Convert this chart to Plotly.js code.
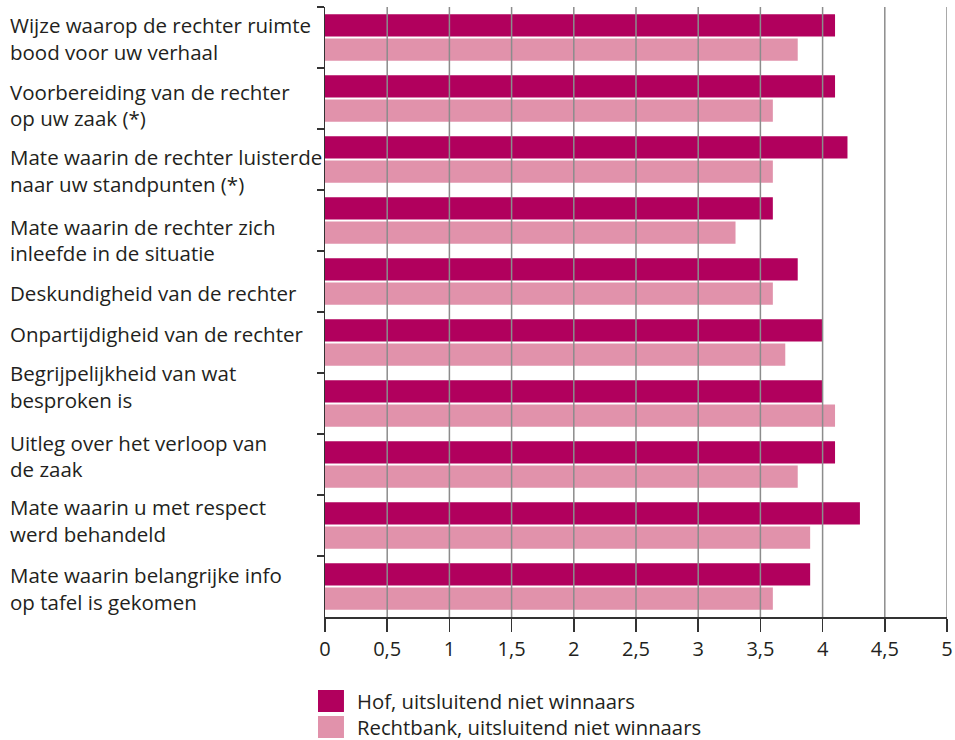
<!DOCTYPE html>
<html>
<head>
<meta charset="utf-8">
<script src="https://cdn.plot.ly/plotly-3.0.1.min.js"></script>
<style>html,body{margin:0;padding:0;background:#fff;}#chart{width:955px;height:740px;}</style>
</head>
<body>
<div id="chart"></div>
<script>
// ---- data ----
const categories = [
  "Wijze waarop de rechter ruimte<br>bood voor uw verhaal",
  "Voorbereiding van de rechter<br>op uw zaak (*)",
  "Mate waarin de rechter luisterde<br>naar uw standpunten (*)",
  "Mate waarin de rechter zich<br>inleefde in de situatie",
  "Deskundigheid van de rechter",
  "Onpartijdigheid van de rechter",
  "Begrijpelijkheid van wat<br>besproken is",
  "Uitleg over het verloop van<br>de zaak",
  "Mate waarin u met respect<br>werd behandeld",
  "Mate waarin belangrijke info<br>op tafel is gekomen"
];
const seriesNames = ["Hof, uitsluitend niet winnaars", "Rechtbank, uitsluitend niet winnaars"];
const hofValues = [4.1, 4.1, 4.2, 3.6, 3.8, 4.0, 4.0, 4.1, 4.3, 3.9];
const rechtbankValues = [3.8, 3.6, 3.6, 3.3, 3.6, 3.7, 4.1, 3.8, 3.9, 3.6];
const xTickValues = [0, 0.5, 1, 1.5, 2, 2.5, 3, 3.5, 4, 4.5, 5];

// ---- styling ----
const colors = ["#b1005d", "#e192ab"];
const FONT = "'Open Sans', sans-serif";
const TXT = "#231f20";
// vertical pixel shift (down) of each label block (layout only)
const labelShift = [1, 6.5, 11, 19.5, 11, -9, -17, -8.5, -5, 2];

const traces = [
  {type: "bar", orientation: "h", name: seriesNames[0], y: categories, x: hofValues,
   marker: {color: colors[0]}, hoverinfo: "x"},
  {type: "bar", orientation: "h", name: seriesNames[1], y: categories, x: rechtbankValues,
   marker: {color: colors[1]}, hoverinfo: "x"}
];

const annotations = [];
categories.forEach((c, i) => {
  const lines = c.split("<br>");
  const pitch = 26.5;
  lines.forEach((ln, j) => {
    const off = (j - (lines.length - 1) / 2) * pitch;
    annotations.push({
      xref: "paper", yref: "y", x: -0.5096, y: c, xanchor: "left", yanchor: "middle",
      text: ln, showarrow: false, align: "left",
      yshift: -(off + labelShift[i]),
      font: {family: FONT, size: 20.5, color: TXT}
    });
  });
});

const shapes = [];
xTickValues.slice(1).forEach(v => {
  shapes.push({type: "line", xref: "x", yref: "paper", x0: v, x1: v, y0: 0, y1: 1,
    line: {color: "#8c8c8c", width: 1.5}, layer: "above"});
});

// legend (custom)
const legY = [[-0.1197, -0.1557], [-0.1623, -0.1984]];
seriesNames.forEach((n, i) => {
  shapes.push({type: "rect", xref: "paper", yref: "paper", x0: -0.0113, x1: 0.0305,
    y0: legY[i][0], y1: legY[i][1], fillcolor: colors[i], line: {width: 0}});
  annotations.push({xref: "paper", yref: "paper", x: 0.0482, y: (legY[i][0] + legY[i][1]) / 2,
    xanchor: "left", yanchor: "middle", text: n, showarrow: false,
    font: {family: FONT, size: 20.3, color: TXT}});
});

const layout = {
  width: 955, height: 740,
  margin: {l: 325, r: 8, t: 7, b: 123},
  paper_bgcolor: "#fff", plot_bgcolor: "#fff",
  separators: ",.",
  barmode: "group", bargap: 0.21, bargroupgap: 0.08,
  showlegend: false,
  font: {family: FONT, size: 20, color: TXT},
  xaxis: {
    range: [0, 5], tickvals: xTickValues, showgrid: false, zeroline: false,
    ticks: "outside", ticklen: 13, tickwidth: 1.5, tickcolor: "#333",
    showline: true, linecolor: "#333", linewidth: 1.5,
    tickfont: {family: FONT, size: 20, color: TXT}, fixedrange: true
  },
  yaxis: {
    type: "category", autorange: "reversed", showticklabels: false,
    tickson: "boundaries", ticks: "outside", ticklen: 7, tickwidth: 1.5, tickcolor: "#333",
    showline: true, linecolor: "#333", linewidth: 1.5, showgrid: false, zeroline: false,
    fixedrange: true
  },
  annotations: annotations,
  shapes: shapes
};

Plotly.newPlot("chart", traces, layout, {displayModeBar: false, staticPlot: true});
</script>
</body>
</html>
